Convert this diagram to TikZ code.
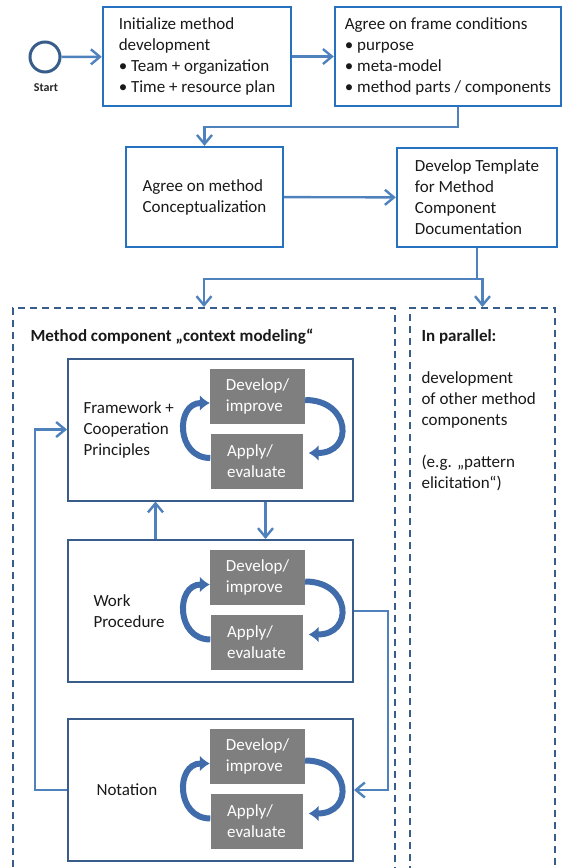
\documentclass[tikz,border=0pt]{standalone}
\usepackage{fontspec}
\setmainfont{Carlito}
\usetikzlibrary{arrows.meta}
\definecolor{boxblue}{RGB}{38,113,192}
\definecolor{lineblue}{RGB}{79,129,189}
\definecolor{darkblue}{RGB}{56,93,138}
\definecolor{cycblue}{RGB}{64,108,172}
\definecolor{boxgrey}{RGB}{127,127,127}
\tikzset{>={Straight Barb[length=9pt,width=15pt]}}
\tikzset{
  txt/.style={font=\fontsize{17}{21}\selectfont, text=black!90},
  ttl/.style={font=\fontsize{17}{21}\selectfont\bfseries, text=black!90},
  mainbox/.style={txt, draw=boxblue, line width=2.4pt, align=left, inner sep=0pt},
  compbox/.style={draw=darkblue, line width=2pt, minimum width=285pt, minimum height=142pt},
  actbox/.style={txt, fill=boxgrey, text=white, align=left, inner sep=0pt, minimum height=55pt},
  dashframe/.style={draw=darkblue, line width=2pt, dash pattern=on 7pt off 5pt, minimum height=580pt},
  conn/.style={draw=lineblue, line width=2.4pt},
  cyc/.style={draw=cycblue, line width=6pt, -{Latex[length=10pt,width=16pt]}}
}

\begin{document}
\begin{tikzpicture}[x=1pt, y=-1pt]
\useasboundingbox (0,0) rectangle (563,868);
% top row
\node[circle, draw=darkblue, line width=3pt, minimum size=30pt, inner sep=0pt] (start) at (45,57) {};
\node[font=\fontsize{12}{14}\selectfont\bfseries, text=black!85] (startlbl) at (46,88) {Start};
\node[mainbox, minimum width=188pt, minimum height=99pt] (init) at (197,56.5) {Initialize method\\development\\• Team + organization\\• Time + resource plan};
\node[mainbox, minimum width=226pt, minimum height=99pt] (cond) at (448,56.5) {Agree on frame conditions\\• purpose\\• meta-model\\• method parts / components};
\node[mainbox, minimum width=157pt, minimum height=100pt] (concept) at (204.5,197) {Agree on method\\Conceptualization};
\node[mainbox, minimum width=160pt, minimum height=99pt] (template) at (477,197.5) {Develop Template\\for Method\\Component\\Documentation};
\draw[conn,->] (start) -- (init);
\draw[conn,->] (init) -- (cond);
\draw[conn,->] ([xshift=10pt]cond.south) |- ([yshift=19pt]concept.north) -- (concept.north);
\draw[conn,->] (concept) -- (template);
% dashed frames
\node[dashframe, minimum width=382pt] (compframe) at (204,598) {};
\node[dashframe, minimum width=145pt] (parframe) at (482.5,598) {};
\draw[conn] (template.south) -- ++(0,31) coordinate (split);
\draw[conn,->] (split) -| (compframe.north);
\draw[conn,->] (split) -| (parframe.north);
\node[ttl, anchor=west] (comptitle) at (27,337) {Method component „context modeling“};
\node[ttl, anchor=west] (partitle) at (418,337) {In parallel:};
\node[txt, align=left, anchor=west] (partext) at (418,431.5) {development\\of other method\\components\\[21pt](e.g. „pattern\\elicitation“)};
% component boxes
\foreach \n/\y/\lx/\txt in {A/429.5/80/{Framework +\\Cooperation\\Principles}, B/611/90/{Work\\Procedure}, C/790/93/{Notation}} {
  \node[compbox] (box\n) at (210.5,\y) {};
  \node[actbox, minimum width=95pt] (dev\n) at (257.5,\y-33.5) {Develop/\\improve};
  \node[actbox, minimum width=92pt] (app\n) at (256.5,\y+31.5) {Apply/\\evaluate};
  \node[txt, align=left, anchor=west] (lbl\n) at (\lx,\y) {\txt};
  \draw[cyc] ([yshift=3pt]app\n.west) to[out=180,in=180,looseness=1.6] ([yshift=-7pt]dev\n.west);
  \draw[cyc] ([yshift=-4pt]dev\n.east) to[out=0,in=0,looseness=2.2] ([xshift=6pt,yshift=8pt]app\n.east);
}
\draw[conn,->] ([xshift=-55pt]boxB.north) -- ([xshift=-55pt]boxA.south);
\draw[conn,->] ([xshift=55pt]boxA.south) -- ([xshift=55pt]boxB.north);
\draw[conn,->] (boxB.east) -- ++(34,0) |- (boxC.east);
\draw[conn,->] (boxC.west) -- ++(-32,0) |- (boxA.west);
\end{tikzpicture}
\end{document}
